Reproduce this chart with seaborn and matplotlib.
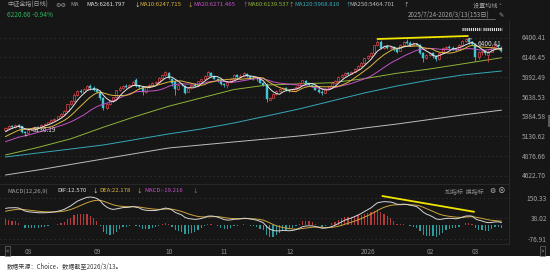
import numpy as np
import pandas as pd
import matplotlib
matplotlib.use("Agg")
import matplotlib.pyplot as plt
import seaborn as sns
from matplotlib.patches import Rectangle
from matplotlib.lines import Line2D

# ---------------- data ----------------
month_ticks = [6, 27, 49, 66, 86, 109, 129, 143]
month_labels = ["08", "09", "10", "11", "12", "2026", "02", "03"]

opens = [5205, 5238, 5262, 5248, 5272, 5255, 5178, 5165, 5210, 5240,
         5250, 5245, 5275, 5290, 5310, 5335, 5350, 5385, 5420, 5460,
         5540, 5580, 5665, 5710, 5700, 5740, 5770, 5750, 5720, 5700,
         5620, 5490, 5540, 5580, 5630, 5720, 5750, 5775, 5760, 5790,
         5850, 5770, 5760, 5700, 5760, 5790, 5810, 5830, 5880, 5920,
         5940, 5860, 5830, 5740, 5790, 5780, 5700, 5750, 5790, 5780,
         5840, 5860, 5910, 5945, 5900, 5870, 5850, 5800, 5790, 5830,
         5870, 5920, 5890, 5905, 5935, 5900, 5880, 5870, 5860, 5820,
         5790, 5600, 5625, 5670, 5710, 5735, 5750, 5720, 5710, 5740,
         5760, 5820, 5845, 5810, 5790, 5770, 5730, 5700, 5690, 5740,
         5770, 5810, 5840, 5890, 5920, 5945, 5930, 5955, 6000, 6030,
         6070, 6130, 6160, 6200, 6300, 6345, 6270, 6290, 6265, 6280,
         6250, 6230, 6300, 6340, 6335, 6300, 6320, 6310, 6200, 6130,
         6170, 6200, 6160, 6120, 6200, 6260, 6280, 6270, 6250, 6240,
         6310, 6350, 6375, 6340, 6320, 6150, 6210, 6230, 6180, 6220,
         6275, 6300, 6270]
highs = [5250, 5270, 5275, 5285, 5285, 5262, 5195, 5215, 5245, 5262,
         5262, 5280, 5300, 5318, 5345, 5360, 5395, 5430, 5470, 5550,
         5595, 5680, 5725, 5740, 5755, 5790, 5795, 5770, 5740, 5710,
         5630, 5555, 5600, 5640, 5730, 5770, 5790, 5795, 5805, 5840,
         5880, 5790, 5770, 5770, 5800, 5830, 5845, 5890, 5935, 5965,
         5955, 5880, 5850, 5800, 5810, 5790, 5760, 5805, 5810, 5845,
         5870, 5920, 5975, 5960, 5915, 5880, 5860, 5815, 5840, 5880,
         5925, 5935, 5925, 5955, 5945, 5910, 5900, 5885, 5870, 5830,
         5810, 5640, 5680, 5720, 5750, 5760, 5760, 5740, 5750, 5770,
         5830, 5855, 5850, 5820, 5800, 5780, 5745, 5720, 5750, 5780,
         5820, 5850, 5900, 5935, 5955, 5960, 5965, 6010, 6045, 6085,
         6140, 6175, 6215, 6310, 6365, 6370, 6305, 6300, 6295, 6290,
         6265, 6320, 6355, 6380, 6360, 6340, 6335, 6320, 6220, 6185,
         6215, 6210, 6170, 6210, 6275, 6295, 6300, 6290, 6270, 6320,
         6365, 6400.41, 6390, 6360, 6330, 6225, 6245, 6240, 6235, 6285,
         6310, 6310, 6285]
lows = [5200, 5230, 5240, 5240, 5240, 5170, 5136.19, 5160, 5205, 5228,
        5232, 5240, 5268, 5282, 5300, 5325, 5345, 5378, 5410, 5455,
        5530, 5575, 5650, 5680, 5690, 5730, 5730, 5710, 5680, 5600,
        5467, 5480, 5530, 5570, 5625, 5710, 5740, 5745, 5750, 5780,
        5760, 5740, 5660, 5690, 5750, 5780, 5795, 5820, 5870, 5910,
        5870, 5780, 5660, 5730, 5770, 5670, 5695, 5740, 5760, 5775,
        5830, 5855, 5900, 5890, 5860, 5830, 5790, 5760, 5750, 5820,
        5860, 5880, 5880, 5895, 5890, 5860, 5855, 5840, 5810, 5770,
        5575, 5590, 5615, 5660, 5700, 5725, 5710, 5695, 5705, 5730,
        5755, 5810, 5800, 5775, 5760, 5720, 5680, 5660, 5685, 5735,
        5765, 5800, 5835, 5885, 5910, 5920, 5925, 5950, 5990, 6025,
        6065, 6125, 6150, 6195, 6290, 6250, 6255, 6250, 6250, 6230,
        6200, 6225, 6290, 6320, 6290, 6295, 6300, 6190, 6090, 6120,
        6160, 6130, 6100, 6115, 6195, 6250, 6255, 6240, 6225, 6235,
        6300, 6345, 6320, 6300, 6100, 6120, 6170, 6170, 6085, 6210,
        6265, 6265, 6210]
closes = [5240, 5262, 5250, 5270, 5255, 5180, 5168, 5210, 5240, 5252,
          5245, 5275, 5290, 5310, 5335, 5350, 5385, 5420, 5460, 5540,
          5580, 5660, 5710, 5700, 5740, 5770, 5745, 5725, 5700, 5620,
          5490, 5540, 5580, 5630, 5720, 5750, 5775, 5760, 5790, 5830,
          5770, 5760, 5700, 5760, 5790, 5810, 5830, 5880, 5920, 5950,
          5880, 5820, 5740, 5790, 5785, 5690, 5750, 5790, 5780, 5840,
          5860, 5910, 5950, 5900, 5870, 5850, 5800, 5790, 5830, 5870,
          5915, 5890, 5910, 5940, 5900, 5880, 5870, 5860, 5820, 5790,
          5605, 5625, 5670, 5710, 5735, 5750, 5720, 5710, 5740, 5760,
          5820, 5850, 5810, 5790, 5770, 5730, 5700, 5690, 5740, 5770,
          5810, 5840, 5890, 5920, 5945, 5930, 5955, 6000, 6030, 6070,
          6130, 6160, 6200, 6300, 6340, 6270, 6290, 6265, 6280, 6250,
          6220, 6300, 6340, 6330, 6300, 6320, 6310, 6200, 6130, 6170,
          6200, 6160, 6120, 6200, 6260, 6280, 6270, 6250, 6240, 6310,
          6350, 6380, 6340, 6320, 6150, 6210, 6230, 6200, 6220, 6275,
          6300, 6279.7, 6220.66]
# closes of the 19 sessions before the window (for MA5/10/20 warm-up)
prior_closes = [4960, 4970, 4975, 4985, 4990, 4995, 5000, 5010, 5020, 5025,
                5030, 5045, 5060, 5070, 5090, 5140, 5165, 5185, 5205]

# long moving averages
ma_days = [0, 10, 20, 30, 40, 50, 60, 70, 80, 90, 100, 110, 120, 130, 140, 152]
ma60_vals = [4887, 4985, 5095, 5245, 5385, 5515, 5622, 5730, 5788, 5803,
             5818, 5870, 5940, 5995, 6060, 6139.5]
ma120_vals = [4861, 4913, 4964, 5016, 5087, 5158, 5222, 5299, 5389, 5480,
              5583, 5686, 5776, 5853, 5917, 5968.8]
ma250_vals = [4629, 4694, 4765, 4836, 4907, 4977, 5016, 5055, 5093, 5132,
              5177, 5235, 5286, 5344, 5402, 5464.7]

# MACD EMA state on the session before the window: EMA12, EMA26, DEA
ema_seed = [5120.0, 5030.0, 73.0]

price_ticks = [6400.41, 6146.45, 5892.49, 5638.53, 5384.58, 5130.62, 4876.66, 4622.70]
macd_ticks = [150.33, 38.02, -76.91]

top_trend_days = [114, 141.7]
top_trend_vals = [6381, 6420]
macd_trend_days = [115.5, 143.6]
macd_trend_vals = [162, 74]

# ---------------- style ----------------
BG = "#161616"
RED = "#e0474c"
CYAN = "#45c6d6"
GRID = "#3a3a3a"
TXT = "#a3a3a3"
C_MA5, C_MA10, C_MA20 = "#e6e6e6", "#dcb640", "#c452c8"
C_MA60, C_MA120, C_MA250 = "#8fb33a", "#35a9b8", "#bdbdbd"
C_GREEN = "#2fb35a"

sns.set_style("dark")
plt.rcParams["font.family"] = ["Noto Sans CJK SC", "DejaVu Sans"]
plt.rcParams["axes.unicode_minus"] = False
plt.rcParams["lines.scale_dashes"] = False

W, H = 550, 276
fig = plt.figure(figsize=(W / 100, H / 100), dpi=100, facecolor="white")
fig.patches.append(Rectangle((0, 1 - 256 / H), 1, 256 / H, transform=fig.transFigure,
                             facecolor=BG, edgecolor="none", zorder=-10))


def fx(px):
    return px / W


def fy(py):
    return 1 - py / H


def ftext(px, py, s, color=TXT, size=4.5, ha="left", **kw):
    return fig.text(fx(px), fy(py), s, color=color, fontsize=size, ha=ha, va="center", **kw)


PX_DAY = 3.263
X0 = 5.5
RIGHT = 509
xlim = (-X0 / PX_DAY, (RIGHT - X0) / PX_DAY)

P_SCALE = (6400.41 - 4622.70) / (175.5 - 37.5)
p_top = 6400.41 + (37.5 - 22) * P_SCALE
p_bot = 4622.70 - (184 - 175.5) * P_SCALE
axp = fig.add_axes([0, fy(184), fx(RIGHT), (184 - 22) / H])
axp.set_facecolor("none")
axp.set_xlim(*xlim)
axp.set_ylim(p_bot, p_top)

M_K = 0.1787
m_zero = 225.0
axm = fig.add_axes([0, fy(244.3), fx(RIGHT), (244.3 - 194) / H])
axm.set_facecolor("none")
axm.set_xlim(*xlim)
axm.set_ylim(-(244.3 - m_zero) / M_K, (m_zero - 194) / M_K)

for ax in (axp, axm):
    for sp in ax.spines.values():
        sp.set_visible(False)
    ax.grid(False)

idx = np.arange(len(closes))
o = np.array(opens, float)
h = np.array(highs, float)
l = np.array(lows, float)
c = np.array(closes, float)

for v in price_ticks:
    axp.axhline(v, color=GRID, lw=0.5, ls=(0, (1, 2)), zorder=1)
for v in macd_ticks:
    axm.axhline(v, color=GRID, lw=0.5, ls=(0, (1, 2)), zorder=1)

full = pd.Series(prior_closes + closes, dtype=float)
n0 = len(prior_closes)
ma_df = pd.DataFrame({"day": idx})
for n in (5, 10, 20):
    ma_df[f"MA{n}"] = full.rolling(n, min_periods=1).mean().values[n0:]
long_df = pd.DataFrame({"day": ma_days, "MA60": ma60_vals, "MA120": ma120_vals, "MA250": ma250_vals})

for col, colr in (("MA250", C_MA250), ("MA120", C_MA120), ("MA60", C_MA60)):
    sns.lineplot(data=long_df, x="day", y=col, ax=axp, color=colr, lw=0.7, estimator=None, zorder=3)

up = c >= o
axp.vlines(idx, l, h, colors=np.where(up, RED, CYAN), lw=0.55, zorder=4)
body_lo = np.minimum(o, c)
body_h = np.maximum(np.abs(c - o), 2.0)
axp.bar(idx[up], body_h[up], bottom=body_lo[up], width=0.62, facecolor=BG,
        edgecolor=RED, lw=0.5, zorder=5)
axp.bar(idx[~up], body_h[~up], bottom=body_lo[~up], width=0.62, facecolor=CYAN,
        edgecolor=CYAN, lw=0.3, zorder=5)

for col, colr in (("MA20", C_MA20), ("MA10", C_MA10), ("MA5", C_MA5)):
    sns.lineplot(data=ma_df, x="day", y=col, ax=axp, color=colr, lw=0.7, estimator=None, zorder=6)

sns.lineplot(x=top_trend_days, y=top_trend_vals, ax=axp, color="#f2e600", lw=1.3, zorder=7, estimator=None)

imax = int(np.argmax(h))
imin = int(np.argmin(l))
axp.annotate(f"{h[imax]:.2f}", xy=(imax, h[imax]), xytext=(12, -6), textcoords="offset pixels",
             color="#d0d0d0", fontsize=4.7, va="center", ha="left",
             arrowprops=dict(arrowstyle="-", color="#d0d0d0", lw=0.5), zorder=8)
axp.annotate(f"{l[imin]:.2f}", xy=(imin, l[imin]), xytext=(8, 6), textcoords="offset pixels",
             color="#d0d0d0", fontsize=4.7, va="center", ha="left",
             arrowprops=dict(arrowstyle="-", color="#d0d0d0", lw=0.5), zorder=8)

e12, e26, dea = ema_seed
dif_l, dea_l = [], []
for cv in closes:
    e12 += (cv - e12) * 2 / 13
    e26 += (cv - e26) * 2 / 27
    d = e12 - e26
    dea += (d - dea) * 2 / 10
    dif_l.append(d)
    dea_l.append(dea)
dif_a = np.array(dif_l)
dea_a = np.array(dea_l)
hist = 2 * (dif_a - dea_a)
pos = hist >= 0
axm.bar(idx[pos], hist[pos], width=0.38, color="#b8393c", lw=0, zorder=3)
axm.bar(idx[~pos], hist[~pos], width=0.38, color="#2f9a9c", lw=0, zorder=3)
macd_df = pd.DataFrame({"day": idx, "DIF": dif_a, "DEA": dea_a})
sns.lineplot(data=macd_df, x="day", y="DEA", ax=axm, color="#cfa53c", lw=0.7, estimator=None, zorder=4)
sns.lineplot(data=macd_df, x="day", y="DIF", ax=axm, color="#d6d6d6", lw=0.7, estimator=None, zorder=5)
sns.lineplot(x=macd_trend_days, y=macd_trend_vals, ax=axm, color="#f2e600", lw=1.3, zorder=6, estimator=None)

axp.yaxis.tick_right()
axp.set_yticks(price_ticks)
axp.set_yticklabels([f"{v:.2f}" for v in price_ticks])
axp.tick_params(axis="y", length=0, pad=26.6, labelsize=4.8, labelcolor=TXT)
for t in axp.get_yticklabels():
    t.set_ha("right")
axp.set_xticks([])
axp.set_xlabel("")
axp.set_ylabel("")

axm.yaxis.tick_right()
axm.set_yticks(macd_ticks)
axm.set_yticklabels([f"{v:.2f}" for v in macd_ticks])
axm.tick_params(axis="y", length=0, pad=27.4, labelsize=4.8, labelcolor=TXT)
for t in axm.get_yticklabels():
    t.set_ha("right")
axm.set_xticks(month_ticks)
axm.set_xticklabels(month_labels)
axm.tick_params(axis="x", length=0, pad=3.0, labelsize=4.8, labelcolor="#8e8e8e")
for t in axm.get_xticklabels():
    t.set_ha("left")
axm.set_xlabel("")
axm.set_ylabel("")

for (x1, y1, x2, y2) in ((RIGHT, 20, RIGHT, 244.3), (0, 184, RIGHT, 184), (0, 244.3, RIGHT, 244.3)):
    fig.lines.append(Line2D([fx(x1), fx(x2)], [fy(y1), fy(y2)], transform=fig.transFigure,
                            color="#2c2c2c", lw=0.6))
fig.patches.append(Rectangle((fx(547.5), fy(127)), fx(2.5), 12 / H, transform=fig.transFigure,
                             facecolor="#5a5a5a", edgecolor="none"))

HS = 4.3
ftext(7, 5, "中证全指(日线)", TXT, 4.4)
ftext(55, 5, "⚙⚙", TXT, 4.4)
ftext(70, 5, "MA", TXT, HS)
hdr = [(86, "MA5:6261.797", C_MA5, 134, "↓"),
       (139, "MA10:6247.715", C_MA10, 187, "↓"),
       (193, "MA20:6271.465", C_MA20, 242, "↑"),
       (247.5, "MA60:6139.537", C_MA60, 288.5, "↑"),
       (294, "MA120:5968.816", C_MA120, 345, "↑"),
       (349.5, "MA250:5464.701", C_MA250, 403, "↑")]
for xs, s, colr, xa, arw in hdr:
    ftext(xs, 5, s, colr, HS)
    ftext(xa, 5, arw, colr, 4.0)
ftext(473, 5, "设置均线 ˅", TXT, 4.4)

ftext(7, 15, "6220.66 -0.94%", C_GREEN, 4.7)
ftext(408, 15, "2025/7/24-2026/3/13(153日)", TXT, 4.5)
fig.lines.append(Line2D([fx(408), fx(495)], [fy(19), fy(19)], transform=fig.transFigure,
                        color=TXT, lw=0.4))
ftext(498, 15, "✎", TXT, 4.5)
for xa, xb in ((462, 481), (483, 502)):
    fig.lines.append(Line2D([fx(xa), fx(xb)], [fy(29), fy(29)], transform=fig.transFigure,
                            color="#e2e2e2", lw=2.2, ls=(0, (0.8, 0.7))))

ftext(7, 191, "MACD(12,26,9)", TXT, HS)
ftext(57, 191, "DIF:12.570", "#e0e0e0", HS)
ftext(92, 191, "↓", "#e0e0e0", 4.0)
ftext(99, 191, "DEA:22.178", C_MA10, HS)
ftext(136, 191, "↓", C_MA10, 4.0)
ftext(144, 191, "MACD:-19.216", C_MA20, HS)
ftext(192, 191, "↓", C_MA20, 4.0)
ftext(445, 191, "加指标  换指标", "#8a8a8a", 4.3)
ftext(489, 191, "⚙", "#bdbdbd", 5)
ftext(498, 191, "⊗", "#bdbdbd", 5.5)

ftext(7.5, 251, "«", "#9a9a9a", 5, ha="center",
      bbox=dict(boxstyle="square,pad=0.15", fc="none", ec="#6a6a6a", lw=0.5))
ftext(542.5, 251, "»", "#9a9a9a", 5, ha="center",
      bbox=dict(boxstyle="square,pad=0.15", fc="none", ec="#6a6a6a", lw=0.5))

ftext(7, 267, "数据来源：Choice，数据截至2026/3/13。", "#3a3a3a", 4.4)

fig.savefig("out.png", dpi=100, facecolor="white")
